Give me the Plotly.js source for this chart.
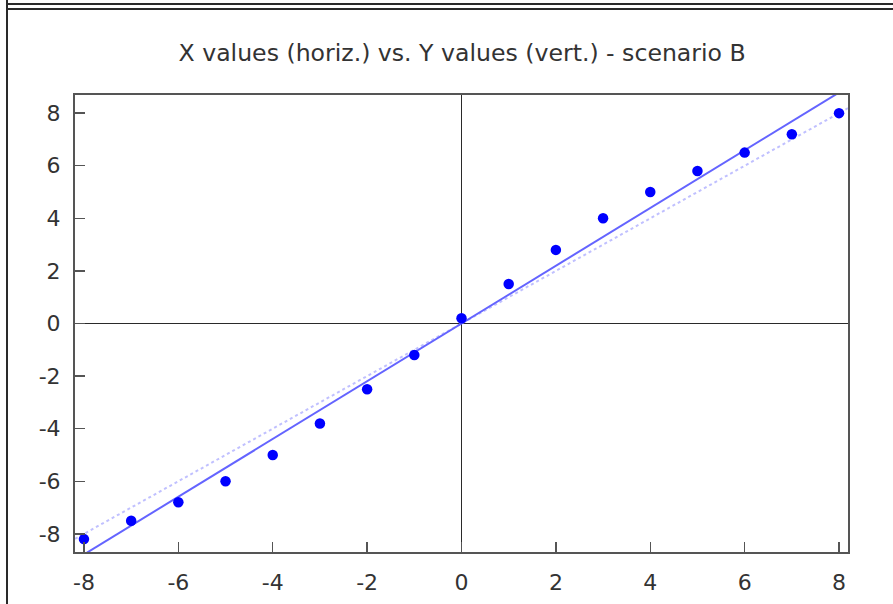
<!DOCTYPE html>
<html>
<head>
<meta charset="utf-8">
<script src="https://cdn.plot.ly/plotly-3.0.1.min.js"></script>
<style>
  html, body { margin: 0; padding: 0; background: #fff; }
  #wrap { position: relative; width: 893px; height: 604px; overflow: hidden; }
  #chart { position: absolute; left: 0; top: 0; width: 893px; height: 604px; }
  .b { position: absolute; background: #2a2a2a; pointer-events: none; }
</style>
</head>
<body>
<div id="wrap">
  <div id="chart"></div>
  <div class="b" style="left:6px; top:3px; width:887px; height:2px;"></div>
  <div class="b" style="left:6px; top:8px; width:887px; height:2px;"></div>
  <div class="b" style="left:6px; top:0px; width:2px; height:604px;"></div>
</div>
<script>
const xValues = [-8, -7, -6, -5, -4, -3, -2, -1, 0, 1, 2, 3, 4, 5, 6, 7, 8];
const yValues = [-8.2, -7.5, -6.8, -6.0, -5.0, -3.8, -2.5, -1.2, 0.2, 1.5, 2.8, 4.0, 5.0, 5.8, 6.5, 7.2, 8.0];
const tickVals = [-8, -6, -4, -2, 0, 2, 4, 6, 8];
const titleText = "X values (horiz.) vs. Y values (vert.) - scenario B";
const xRange = [-8.19, 8.19];
const yRange = [-8.69, 8.69];

// least-squares fit from the data
const n = xValues.length;
const mx = xValues.reduce((a, b) => a + b, 0) / n;
const my = yValues.reduce((a, b) => a + b, 0) / n;
let sxy = 0, sxx = 0;
for (let i = 0; i < n; i++) { sxy += (xValues[i] - mx) * (yValues[i] - my); sxx += (xValues[i] - mx) ** 2; }
const slope = sxy / sxx;
const intercept = my - slope * mx;
const fitX = [xRange[0] - 1, xRange[1] + 1];
const fitY = fitX.map(x => intercept + slope * x);

const idX = [xRange[0], xRange[1]];
const idY = idX.slice();

const traces = [
  { x: idX, y: idY, mode: 'lines', line: { color: '#c0c0ff', width: 2, dash: 'dot' }, hoverinfo: 'skip' },
  { x: fitX, y: fitY, mode: 'lines', line: { color: '#6464ff', width: 2 }, hoverinfo: 'skip' },
  { x: xValues, y: yValues, mode: 'markers', marker: { color: '#0000ff', size: 10.5 }, cliponaxis: false }
];

const axisCommon = {
  showgrid: false,
  zeroline: true,
  zerolinecolor: '#2a2a2a',
  zerolinewidth: 1.5,
  showline: true,
  linecolor: '#555',
  linewidth: 2,
  mirror: true,
  ticks: 'inside',
  ticklen: 10,
  tickwidth: 1.5,
  tickcolor: '#555',
  tickvals: tickVals,
  ticktext: tickVals.map(String),
  tickfont: { family: 'DejaVu Sans', size: 22, color: '#333' },
  fixedrange: true
};

const layout = {
  width: 893, height: 604,
  margin: { l: 75, r: 45, t: 95, b: 52 },
  paper_bgcolor: '#fff', plot_bgcolor: '#fff',
  showlegend: false,
  title: { text: titleText, font: { family: 'DejaVu Sans', size: 23.6, color: '#333' }, x: 0.5175, xanchor: 'center', y: 0.913, yanchor: 'middle' },
  xaxis: Object.assign({}, axisCommon, { range: xRange, ticklabelstandoff: 10 }),
  yaxis: Object.assign({}, axisCommon, { range: yRange, ticklabelstandoff: 8 })
};

Plotly.newPlot('chart', traces, layout, { displayModeBar: false, staticPlot: true });
</script>
</body>
</html>
